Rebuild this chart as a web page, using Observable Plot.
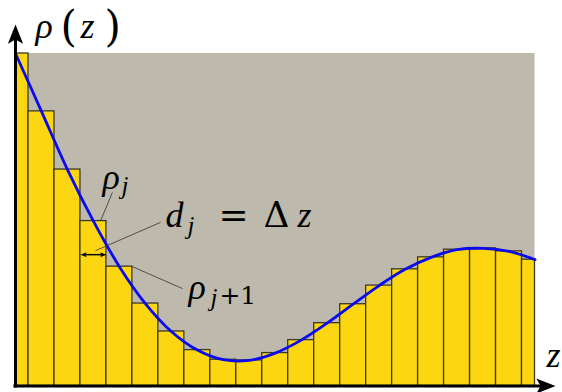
<!DOCTYPE html>
<html><head><meta charset="utf-8">
<script src="https://cdn.jsdelivr.net/npm/d3@7"></script>
<script src="https://cdn.jsdelivr.net/npm/@observablehq/plot@0.6"></script>
<style>body{margin:0;background:#fff}</style>
</head><body><div id="chart"></div>
<script>
// ---- data ----
const zValues = [0,1,2,3,4,5,6,7,8,9,10,11,12,13,14,15,16,17,18,19,20];
const rhoValues = [1.000,0.826,0.651,0.496,0.359,0.248,0.164,0.108,0.079,0.077,0.099,0.138,0.189,0.246,0.302,0.351,0.387,0.410,0.414,0.405,0.380];

// ---- annotations (data units, baselines) ----
const italicText = [
  {t:"ρ", z:0.77, r:1.048, s:36},
  {t:"z", z:2.50, r:1.048, s:36},
  {t:"ρ", z:3.35, r:0.594, s:36},
  {t:"j", z:4.08, r:0.576, s:25},
  {t:"d", z:5.77, r:0.477, s:36},
  {t:"j", z:6.62, r:0.456, s:25},
  {t:"z", z:10.86, r:0.477, s:36},
  {t:"ρ", z:6.66, r:0.263, s:36},
  {t:"j", z:7.51, r:0.242, s:25},
  {t:"z", z:20.44, r:0.056, s:36}
];
const uprightText = [
  {t:"(", z:1.73, r:1.039, s:42},
  {t:")", z:3.43, r:1.039, s:42},
  {t:"=", z:7.82, r:0.477, s:36},
  {t:"Δ", z:9.55, r:0.477, s:36},
  {t:"+1", z:7.85, r:0.248, s:25}
];
const leaders = [
  {x1:3.73, y1:0.582, x2:3.27, y2:rhoValues[3]},
  {x1:5.58, y1:0.492, x2:3.08, y2:0.407},
  {x1:4.50, y1:rhoValues[4], x2:6.43, y2:0.293}
];
const widthArrow = {x1:2.5, x2:3.5, y:0.395};

const bars = zValues.map((z, i) => ({x1: Math.max(0, z - 0.5), x2: Math.min(20, z + 0.5), rho: rhoValues[i]}));
const curve = zValues.map((z, i) => ({z, rho: rhoValues[i]}));

const stealth = {
  draw(ctx, size) {
    const r = Math.sqrt(size / Math.PI);
    const L = r * 2.4, w = r * 1.9;
    ctx.moveTo(0, 0);
    ctx.lineTo(w / 2, L);
    ctx.lineTo(0, L * 0.78);
    ctx.lineTo(-w / 2, L);
    ctx.closePath();
  }
};

// one text mark per piece, constant family/size/style
function textMarks(pieces, family, italic) {
  return pieces.map(p => Plot.text([{}], {
    x: p.z, y: p.r, text: [p.t],
    fontSize: p.s, textAnchor: "start", fontFamily: family,
    fontStyle: italic ? "italic" : "normal",
    dy: -0.32 * p.s
  }));
}

const chart = Plot.plot({
  width: 562, height: 392,
  marginLeft: 15, marginRight: 27.5, marginTop: 53, marginBottom: 6.5,
  x: {domain: [0, 20], axis: null},
  y: {domain: [0, 1], axis: null},
  marks: [
    Plot.rect([{}], {x1: 0, x2: 20, y1: 0, y2: 1, fill: "#bdb9ad"}),
    Plot.rect(bars, {x1: "x1", x2: "x2", y1: 0, y2: "rho", fill: "#fdd612", stroke: "#3a382c", strokeWidth: 1.3}),
    Plot.line(curve, {x: "z", y: "rho", curve: "catmull-rom", stroke: "#0a0aee", strokeWidth: 2.8}),
    Plot.link(leaders, {x1: "x1", y1: "y1", x2: "x2", y2: "y2", stroke: "#333", strokeWidth: 0.8}),
    Plot.link([widthArrow], {x1: d => d.x1 + 0.15, x2: d => d.x2 - 0.15, y1: "y", y2: "y", stroke: "black", strokeWidth: 1.5}),
    Plot.dot([widthArrow], {x: "x1", y: "y", symbol: stealth, r: 2.6, rotate: -90, fill: "black", stroke: "none"}),
    Plot.dot([widthArrow], {x: "x2", y: "y", symbol: stealth, r: 2.6, rotate: 90, fill: "black", stroke: "none"}),
    // axes
    Plot.link([{}], {x1: 0, x2: 0, y1: -0.0045, y2: 1.05, stroke: "black", strokeWidth: 3}),
    Plot.link([{}], {x1: -0.08, x2: 20.3, y1: 0, y2: 0, stroke: "black", strokeWidth: 3}),
    Plot.dot([{}], {x: 0, y: 1.087, symbol: stealth, r: 8, fill: "black", stroke: "none"}),
    Plot.dot([{}], {x: 20.79, y: 0, symbol: stealth, r: 8, rotate: 90, fill: "black", stroke: "none"}),
    // labels
    ...textMarks(italicText, "serif", true),
    ...textMarks(uprightText, "DejaVu Serif", false)
  ]
});
document.getElementById("chart").appendChild(chart);
</script>
</body></html>
